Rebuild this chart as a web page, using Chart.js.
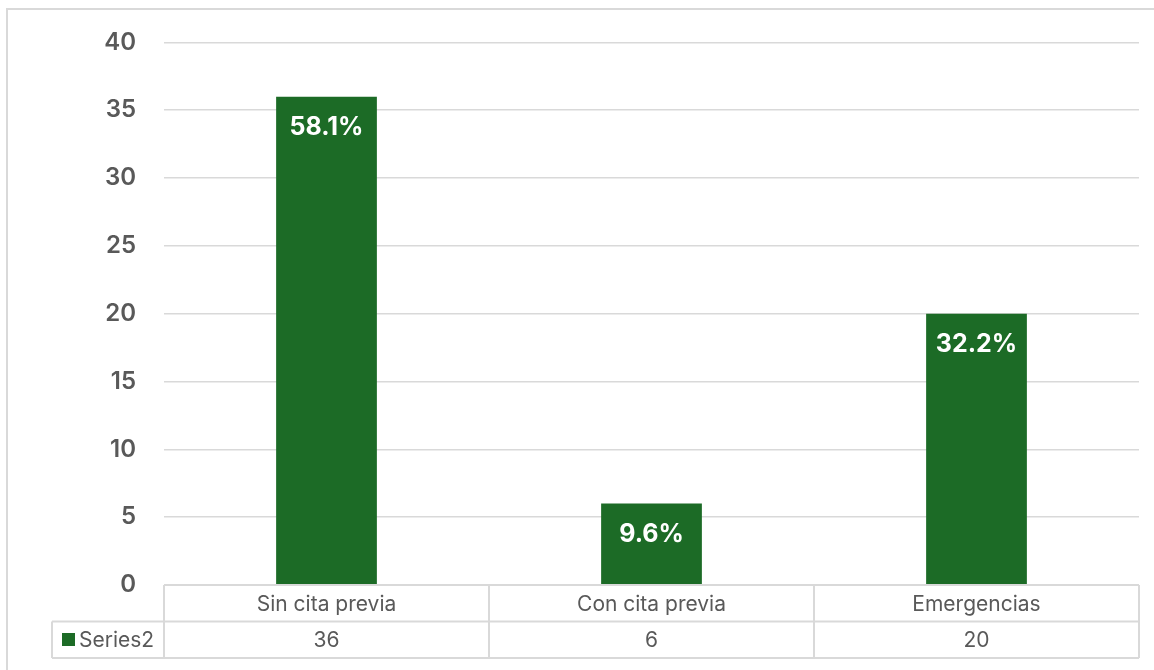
<!DOCTYPE html>
<html>
<head>
<meta charset="utf-8">
<script src="https://cdn.jsdelivr.net/npm/chart.js@4.4.1/dist/chart.umd.min.js"></script>
<style>
  html, body { margin: 0; padding: 0; background: #fff; }
  #wrap { width: 1154px; height: 670px; position: relative; }
</style>
</head>
<body>
<div id="wrap"><canvas id="myChart" width="1154" height="670"></canvas></div>
<script>
// datos del grafico
const categorias = ["Sin cita previa", "Con cita previa", "Emergencias"];
const valores = [36, 6, 20];
const porcentajes = ["58.1%", "9.6%", "32.2%"];
const nombreSerie = "Series2";
const ticksY = [0, 5, 10, 15, 20, 25, 30, 35, 40];

const verde = "#1c6b26";
const gris = "#d9d9d9";
const texto = "#595959";
const fuente = "Inter, 'Liberation Sans', sans-serif";

// marco exterior del grafico
const marco = {
  id: "marco",
  beforeDraw(chart) {
    const ctx = chart.ctx;
    ctx.save();
    ctx.fillStyle = "#fff";
    ctx.fillRect(0, 0, chart.width, chart.height);
    ctx.strokeStyle = gris;
    ctx.lineWidth = 2;
    ctx.beginPath();
    ctx.moveTo(7, chart.height);
    ctx.lineTo(7, 9);
    ctx.lineTo(chart.width, 9);
    ctx.stroke();
    ctx.restore();
  },
};

// etiquetas de porcentaje dentro de cada barra
const etiquetas = {
  id: "etiquetas",
  afterDatasetsDraw(chart) {
    const ctx = chart.ctx;
    const meta = chart.getDatasetMeta(0);
    ctx.save();
    ctx.fillStyle = "#fff";
    ctx.font = "700 25px " + fuente;
    ctx.textAlign = "center";
    ctx.textBaseline = "middle";
    meta.data.forEach((bar, i) => {
      ctx.fillText(porcentajes[i], bar.x, bar.y + 31);
    });
    ctx.restore();
  },
};

// tabla de datos debajo del eje x
const tablaDatos = {
  id: "tablaDatos",
  afterDraw(chart) {
    const ctx = chart.ctx;
    const x = chart.scales.x;
    const area = chart.chartArea;
    const ancho = (area.right - area.left) / categorias.length;
    const fila1 = area.bottom;
    const fila2 = fila1 + 36.5;
    const fin = fila2 + 36.5;
    const izqLeyenda = 52;

    ctx.save();
    ctx.strokeStyle = gris;
    ctx.lineWidth = 2;
    ctx.beginPath();
    // horizontales
    ctx.moveTo(area.left, fila1);
    ctx.lineTo(area.right, fila1);
    ctx.moveTo(izqLeyenda, fila2);
    ctx.lineTo(area.right, fila2);
    ctx.moveTo(izqLeyenda, fin);
    ctx.lineTo(area.right, fin);
    // verticales
    ctx.moveTo(izqLeyenda, fila2);
    ctx.lineTo(izqLeyenda, fin);
    for (let i = 0; i <= categorias.length; i++) {
      const px = area.left + ancho * i;
      ctx.moveTo(px, fila1);
      ctx.lineTo(px, fin);
    }
    ctx.stroke();

    ctx.fillStyle = texto;
    ctx.font = "400 21px " + fuente;
    ctx.textAlign = "center";
    ctx.textBaseline = "middle";
    categorias.forEach((c, i) => {
      const cx = x.getPixelForValue(i);
      ctx.fillText(c, cx, (fila1 + fila2) / 2 + 1);
      ctx.fillText(String(valores[i]), cx, (fila2 + fin) / 2 + 1);
    });

    // clave de la serie
    ctx.fillStyle = verde;
    ctx.fillRect(62, fila2 + 11.5, 13, 13);
    ctx.fillStyle = texto;
    ctx.textAlign = "left";
    ctx.fillText(nombreSerie, 79, (fila2 + fin) / 2 + 1);
    ctx.restore();
  },
};

function drawChart() {
  const ctx = document.getElementById("myChart").getContext("2d");
  new Chart(ctx, {
    type: "bar",
    data: {
      labels: categorias,
      datasets: [
        {
          label: nombreSerie,
          data: valores,
          backgroundColor: verde,
          borderWidth: 0,
          barPercentage: 0.31,
          categoryPercentage: 1,
        },
      ],
    },
    options: {
      responsive: false,
      animation: false,
      events: [],
      layout: {
        padding: { left: 0, right: 15, top: 41, bottom: 85 },
      },
      plugins: {
        legend: { display: false },
        tooltip: { enabled: false },
      },
      scales: {
        x: {
          display: false,
        },
        y: {
          min: 0,
          max: 40,
          afterFit(scale) {
            scale.width = 164;
          },
          afterBuildTicks(scale) {
            scale.ticks = ticksY.map((v) => ({ value: v }));
          },
          border: { display: false },
          grid: {
            color: gris,
            lineWidth: 1.5,
            drawTicks: false,
          },
          ticks: {
            padding: 28,
            color: texto,
            font: { family: fuente, size: 24, weight: "600" },
          },
        },
      },
    },
    plugins: [marco, etiquetas, tablaDatos],
  });
}

drawChart();
</script>
</body>
</html>
